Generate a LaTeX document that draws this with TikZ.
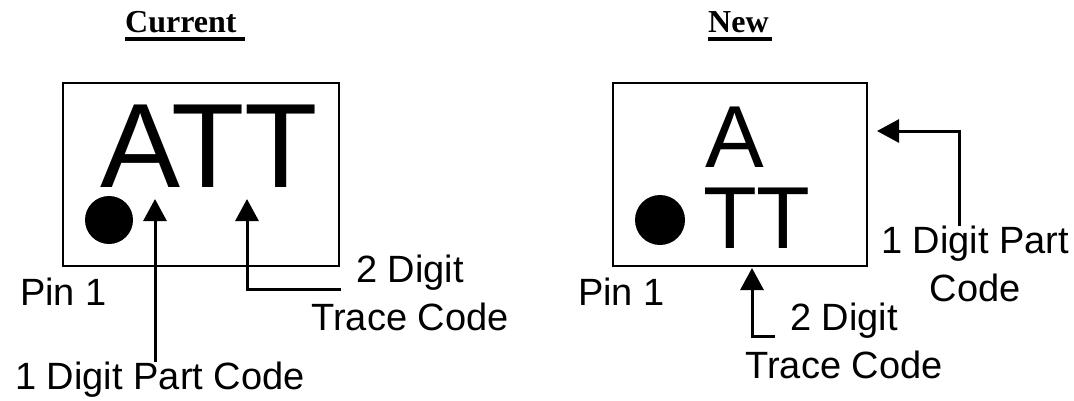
\documentclass[tikz,border=0pt]{standalone}
\usepackage{fontspec}
\usepackage{tikz}
\usepackage{xcolor}
\usetikzlibrary{arrows.meta}
\newfontfamily\labelfont{Liberation Sans}
\newfontfamily\titlefont{Liberation Serif}

\begin{document}
\begin{tikzpicture}[x=1pt,y=-1pt,
    chip/.style={draw,line width=2.8pt,inner sep=0pt},
    mark/.style={inner sep=0pt,font={\labelfont\fontsize{#1}{#1}\selectfont}},
    pindot/.style={circle,fill,inner sep=0pt,minimum size=#1},
    lbl/.style={inner sep=0pt,align=center,font={\labelfont\fontsize{38}{48}\selectfont}},
    ttl/.style={inner sep=0pt,font={\titlefont\bfseries\fontsize{32}{32}\selectfont}},
    uline/.style={line width=3.5pt},
    arr/.style={line width=3pt,-{Triangle[length=22pt,width=23pt]}} ]
    \useasboundingbox (0,0) rectangle (1074,400);
    % current marking
    \node [ttl,anchor=base west] (tcur) at (125,32) {Current};
    \draw [uline] ([yshift=-7pt]tcur.base west) -- ([xshift=8pt,yshift=-7pt]tcur.base east);
    \node [chip,minimum width=276pt,minimum height=183pt] (cbox) at (201,174.5) {};
    \node [mark=120,anchor=base west] (catt) at (100,187) {ATT};
    \node [pindot=48pt] (cdot) at (109,220) {};
    \node [lbl,anchor=base west] (cpin) at (20,305) {Pin 1};
    \node [lbl,anchor=north] (cpart) at (160,362) {1 Digit Part Code};
    \node [lbl,anchor=north] (ctrace) at (410,255) {2 Digit\\Trace Code};
    \coordinate (ctip1) at (155,199);
    \coordinate (ctip2) at (247,199);
    \coordinate (cfoot2) at (341,289);
    \draw [arr] (ctip1 |- cpart.north) -- (ctip1);
    \draw [arr] (cfoot2) -| (ctip2);
    % new marking
    \node [ttl,anchor=base west] (tnew) at (708,32) {New};
    \draw [uline] ([yshift=-7pt]tnew.base west) -- ([xshift=3pt,yshift=-7pt]tnew.base east);
    \node [chip,minimum width=254pt,minimum height=183pt] (nbox) at (740,174.5) {};
    \node [mark=88,anchor=base west] (na) at (705,167) {A};
    \node [mark=88,anchor=base west] (ntt) at (703,248) {TT};
    \node [pindot=50pt] (ndot) at (660,220) {};
    \node [lbl,anchor=base west] (npin) at (578,305) {Pin 1};
    \node [lbl,anchor=north] (npart) at (975,226) {1 Digit Part\\Code};
    \node [lbl,anchor=north] (ntrace) at (844,303) {2 Digit\\Trace Code};
    \coordinate (ntip1) at (877,131);
    \coordinate (nbend1) at (959,131);
    \coordinate (ntip2) at (752,268);
    \coordinate (nfoot2) at (775,336);
    \draw [arr] (nbend1 |- npart.north) -- (nbend1) -- (ntip1);
    \draw [arr] (nfoot2) -| (ntip2);
\end{tikzpicture}
\end{document}
